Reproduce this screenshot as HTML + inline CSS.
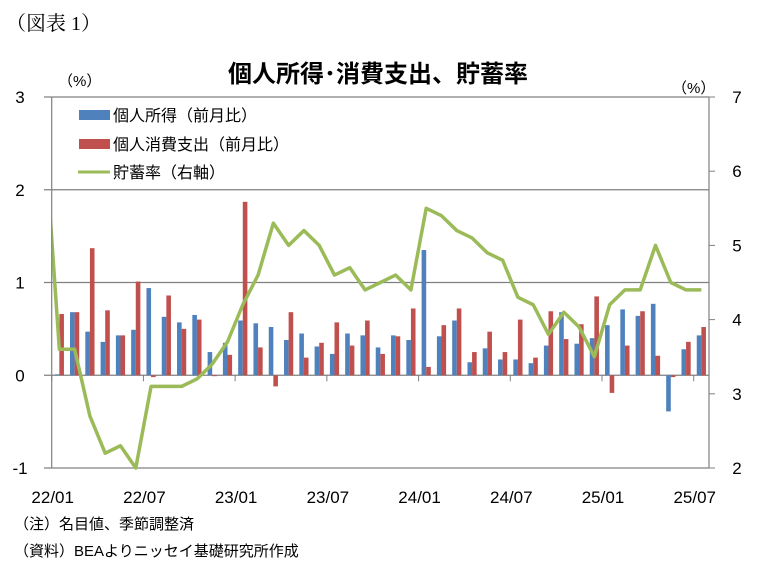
<!DOCTYPE html>
<html><head><meta charset="utf-8">
<style>
body{margin:0;background:#fff;}
svg{display:block;font-family:"Liberation Sans","Noto Sans CJK JP",sans-serif;}
</style></head>
<body>
<svg id="chart" width="765" height="575" viewBox="0 0 765 575" xmlns="http://www.w3.org/2000/svg">
<text x="6" y="30" font-size="20" font-family="Liberation Serif, Noto Serif CJK SC, serif">（図表 1）</text>
<text x="378" y="82" font-size="24" font-weight="bold" text-anchor="middle">個人所得･消費支出、貯蓄率</text>
<text x="58" y="86" font-size="15">（%）</text>
<text x="672" y="93" font-size="15">（%）</text>
<g id="grid"></g>
<g id="bars"></g>
<g id="lineg"></g>
<g id="axes"></g>
<g>
 <rect x="79" y="110" width="31" height="10" fill="#4f81bd"/>
 <text x="113" y="121" font-size="16">個人所得（前月比）</text>
 <rect x="79" y="139" width="31" height="10" fill="#c0504d"/>
 <text x="113" y="150" font-size="16">個人消費支出（前月比）</text>
 <line x1="78" y1="172" x2="110" y2="172" stroke="#9bbb59" stroke-width="3"/>
 <text x="113" y="178" font-size="16">貯蓄率（右軸）</text>
</g>
<text x="14" y="529" font-size="15">（注）名目値、季節調整済</text>
<text x="14" y="556" font-size="15">（資料）BEAよりニッセイ基礎研究所作成</text>
</svg>
<script>
const categories=["22/01","22/02","22/03","22/04","22/05","22/06","22/07","22/08","22/09","22/10","22/11","22/12","23/01","23/02","23/03","23/04","23/05","23/06","23/07","23/08","23/09","23/10","23/11","23/12","24/01","24/02","24/03","24/04","24/05","24/06","24/07","24/08","24/09","24/10","24/11","24/12","25/01","25/02","25/03","25/04","25/05","25/06","25/07"];
const income=[0.01,0.68,0.47,0.36,0.43,0.49,0.94,0.63,0.57,0.65,0.25,0.35,0.59,0.56,0.52,0.38,0.45,0.31,0.23,0.45,0.43,0.30,0.43,0.38,1.35,0.42,0.59,0.14,0.29,0.17,0.17,0.13,0.32,0.68,0.34,0.40,0.54,0.71,0.64,0.77,-0.39,0.28,0.43];
const consumption=[0.66,0.68,1.37,0.70,0.43,1.01,-0.02,0.86,0.50,0.60,-0.01,0.22,1.87,0.30,-0.12,0.68,0.19,0.35,0.57,0.32,0.59,0.23,0.42,0.72,0.09,0.54,0.72,0.25,0.47,0.25,0.60,0.19,0.69,0.39,0.55,0.85,-0.19,0.32,0.69,0.21,-0.02,0.36,0.52];
const savingPrev=6.6;
const saving=[3.6,3.6,2.7,2.2,2.3,2.0,3.1,3.1,3.1,3.2,3.4,3.7,4.2,4.6,5.3,5.0,5.2,5.0,4.6,4.7,4.4,4.5,4.6,4.4,5.5,5.4,5.2,5.1,4.9,4.8,4.3,4.2,3.8,4.1,3.9,3.5,4.2,4.4,4.4,5.0,4.5,4.4,4.4];
const leftTicks=[3,2,1,0,-1];
const rightTicks=[7,6,5,4,3,2];
const xLabels=["22/01","22/07","23/01","23/07","24/01","24/07","25/01","25/07"];

const NS="http://www.w3.org/2000/svg";
const X0=51.7,X1=709,YT=97,YB=468;
const step=(X1-X0)/categories.length;
const yL=v=>YB-(v-(-1))/(3-(-1))*(YB-YT);
const yR=v=>YB-(v-2)/(7-2)*(YB-YT);
const xC=i=>X0+step*(i+0.5);
function mk(tag,attrs,parent){const e=document.createElementNS(NS,tag);for(const k in attrs)e.setAttribute(k,attrs[k]);parent.appendChild(e);return e;}
const grid=document.getElementById('grid'),bars=document.getElementById('bars'),lg=document.getElementById('lineg'),axes=document.getElementById('axes');
leftTicks.forEach(v=>{
 const l=mk('line',{x1:44,x2:X1,y1:yL(v),y2:yL(v),stroke:'#808080','stroke-width':1.2},grid);
 
 
 const t=mk('text',{x:20,y:yL(v)+6,'font-size':17,'text-anchor':'middle'},axes);
 t.textContent=v;
 
 
});
rightTicks.forEach(v=>{
 const l=mk('line',{x1:X1,x2:X1+6,y1:yR(v),y2:yR(v),stroke:'#808080','stroke-width':1},axes);
 
 
 const t=mk('text',{x:737,y:yR(v)+6,'font-size':17,'text-anchor':'middle'},axes);
 t.textContent=v;
 
 
});
const la=mk('line',{x1:X0,x2:X0,y1:YT,y2:YB,stroke:'#808080','stroke-width':1.2},axes);


const ra=mk('line',{x1:X1,x2:X1,y1:YT,y2:YB,stroke:'#808080','stroke-width':1.2},axes);


for(let k=0;k<=categories.length;k+=6){
 const tx=X0+step*k;
 const tk=mk('line',{x1:tx,x2:tx,y1:yL(0),y2:yL(0)+6,stroke:'#808080','stroke-width':1},axes);
 
 
}
xLabels.forEach((s,j)=>{
 const idx=categories.indexOf(s);
 const t=mk('text',{x:X0+step*idx+1,y:503,'font-size':17,'text-anchor':'middle'},axes);
 t.textContent=s;
 
 
});
const bw=4.6,z=yL(0);
categories.forEach((c,i)=>{
 const cx=xC(i);
 const a=yL(income[i]);
 const b=mk('rect',{x:cx-bw,y:Math.min(a,z),width:bw,height:Math.max(Math.abs(a-z),0.5),fill:'#4f81bd'},bars);
 
 
 const r=yL(consumption[i]);
 const b2=mk('rect',{x:cx,y:Math.min(r,z),width:bw,height:Math.max(Math.abs(r-z),0.5),fill:'#c0504d'},bars);
 
 
});
const defs=mk('defs',{},lg);
const cp=mk('clipPath',{id:'plotclip'},defs);
mk('rect',{x:X0,y:0,width:X1-X0,height:575},cp);
let pts=[(xC(-1))+','+yR(savingPrev)];
saving.forEach((v,i)=>pts.push(xC(i)+','+yR(v)));
const pl=mk('polyline',{points:pts.join(' '),fill:'none',stroke:'#9bbb59','stroke-width':3.5,'stroke-linejoin':'round','clip-path':'url(#plotclip)'},lg);


</script>
</body></html>
